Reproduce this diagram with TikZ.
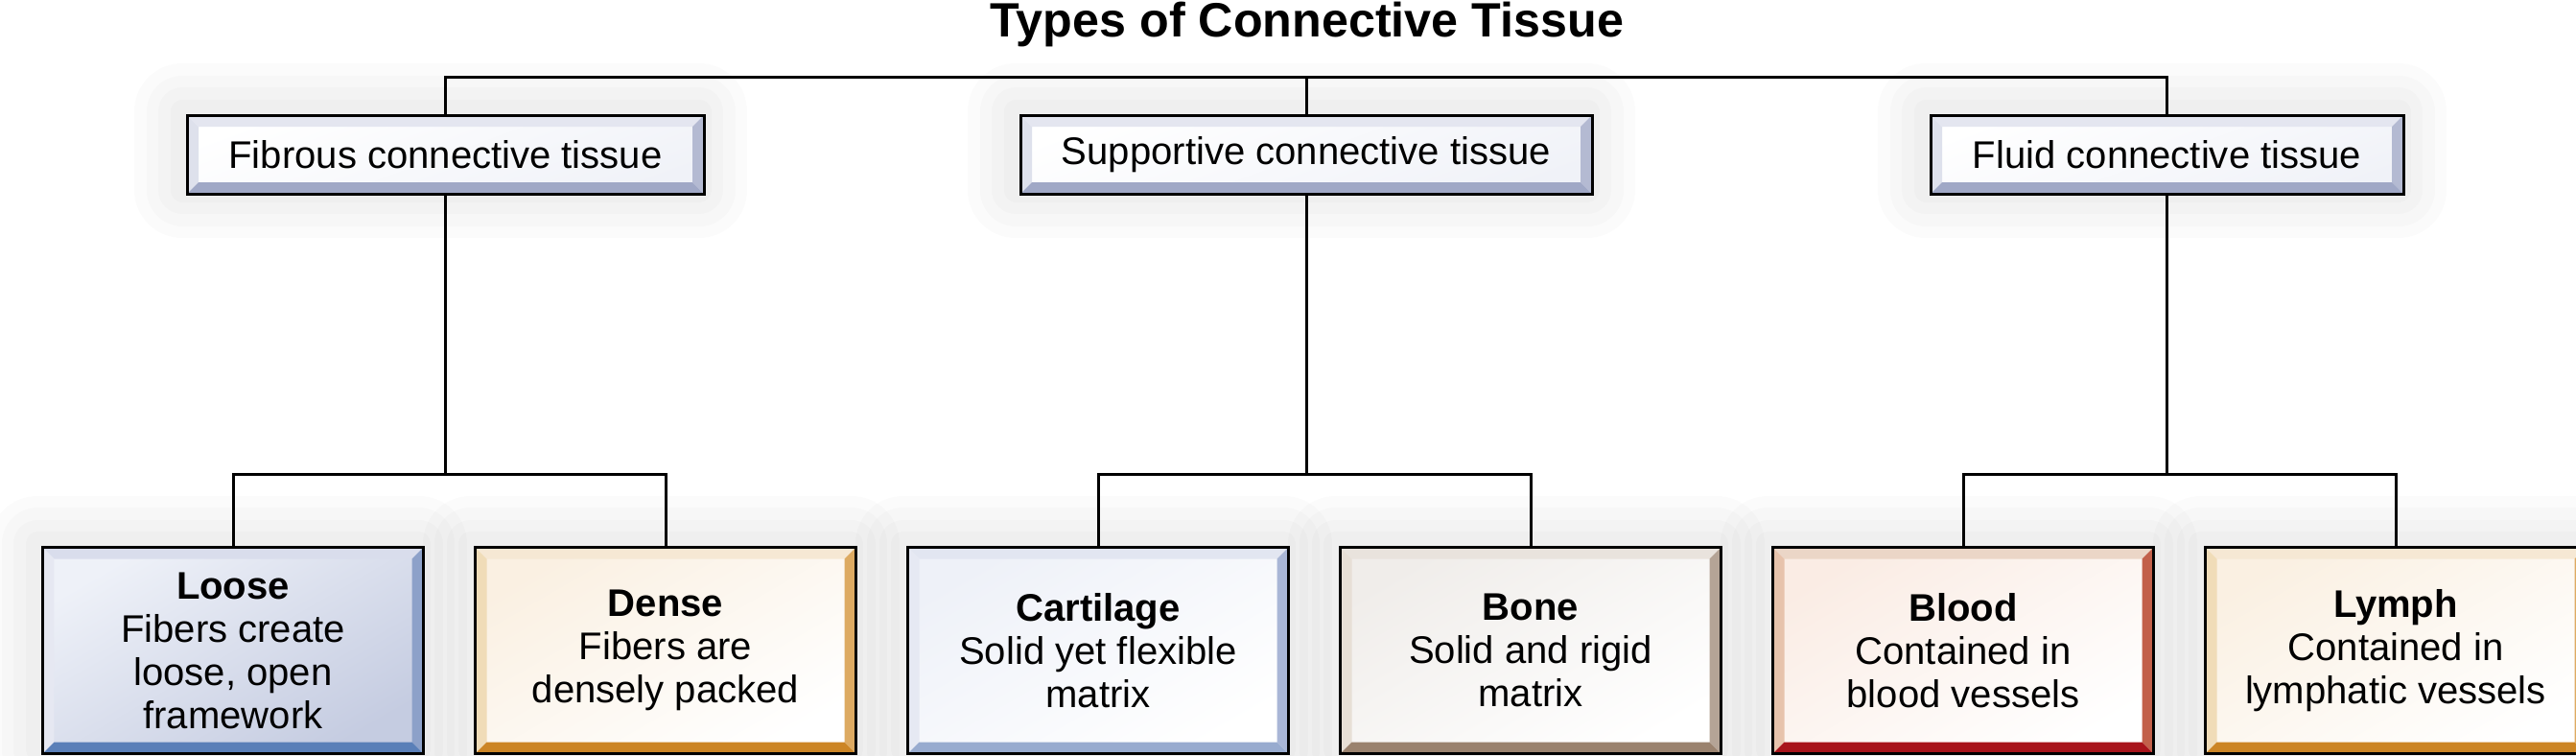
\documentclass[tikz,border=0pt]{standalone}
\usepackage{fontspec}
\setmainfont{Liberation Sans}
\newfontfamily\titlefont[FakeStretch=1.0]{Liberation Sans}
\usepackage{tikz}
\usetikzlibrary{positioning}
\definecolor{ctLvoneTop}{RGB}{228,230,240}
\definecolor{ctLvoneLeft}{RGB}{222,225,236}
\definecolor{ctLvoneRight}{RGB}{180,186,210}
\definecolor{ctLvoneBottom}{RGB}{160,168,198}
\definecolor{ctLvoneFill}{RGB}{240,242,248}
\definecolor{ctBlueFill}{RGB}{197,204,225}
\definecolor{ctBlueTop}{RGB}{217,221,236}
\definecolor{ctBlueLeft}{RGB}{230,232,242}
\definecolor{ctBlueRight}{RGB}{141,161,201}
\definecolor{ctBlueBottom}{RGB}{90,127,184}
\definecolor{ctPaleFill}{RGB}{238,241,248}
\definecolor{ctPaleTop}{RGB}{226,230,241}
\definecolor{ctPaleLeft}{RGB}{230,233,243}
\definecolor{ctPaleRight}{RGB}{169,182,214}
\definecolor{ctPaleBottom}{RGB}{152,171,207}
\definecolor{ctOrangeFill}{RGB}{250,240,226}
\definecolor{ctOrangeTop}{RGB}{246,232,212}
\definecolor{ctOrangeLeft}{RGB}{240,220,184}
\definecolor{ctOrangeRight}{RGB}{221,170,98}
\definecolor{ctOrangeBottom}{RGB}{204,133,37}
\definecolor{ctBoneFill}{RGB}{240,237,234}
\definecolor{ctBoneTop}{RGB}{233,227,221}
\definecolor{ctBoneLeft}{RGB}{231,223,214}
\definecolor{ctBoneRight}{RGB}{181,164,150}
\definecolor{ctBoneBottom}{RGB}{154,130,110}
\definecolor{ctRedFill}{RGB}{250,236,228}
\definecolor{ctRedTop}{RGB}{235,214,199}
\definecolor{ctRedLeft}{RGB}{231,195,172}
\definecolor{ctRedRight}{RGB}{194,96,74}
\definecolor{ctRedBottom}{RGB}{168,20,27}
\newcommand{\bevw}{0.12cm}

\begin{document}
\begin{tikzpicture}[
  font=\fontsize{11.4}{12.8}\selectfont,
  glow/.style={
    preaction={draw=black,draw opacity=0.016,line width=1.0cm,line join=round,transform canvas={shift={(-0.05,0.04)}}},
    preaction={draw=black,draw opacity=0.016,line width=0.75cm,line join=round,transform canvas={shift={(-0.05,0.04)}}},
    preaction={draw=black,draw opacity=0.016,line width=0.5cm,line join=round,transform canvas={shift={(-0.05,0.04)}}},
    preaction={draw=black,draw opacity=0.016,line width=0.25cm,line join=round,transform canvas={shift={(-0.05,0.04)}}}},
  bevel/.style n args={4}{path picture={
    \fill[#1] (path picture bounding box.north west) -- (path picture bounding box.north east)
      -- ([xshift=-\bevw,yshift=-\bevw]path picture bounding box.north east)
      -- ([xshift=\bevw,yshift=-\bevw]path picture bounding box.north west) -- cycle;
    \fill[#2] (path picture bounding box.north west) -- (path picture bounding box.south west)
      -- ([xshift=\bevw,yshift=\bevw]path picture bounding box.south west)
      -- ([xshift=\bevw,yshift=-\bevw]path picture bounding box.north west) -- cycle;
    \fill[#3] (path picture bounding box.north east) -- (path picture bounding box.south east)
      -- ([xshift=-\bevw,yshift=\bevw]path picture bounding box.south east)
      -- ([xshift=-\bevw,yshift=-\bevw]path picture bounding box.north east) -- cycle;
    \fill[#4] (path picture bounding box.south west) -- (path picture bounding box.south east)
      -- ([xshift=-\bevw,yshift=\bevw]path picture bounding box.south east)
      -- ([xshift=\bevw,yshift=\bevw]path picture bounding box.south west) -- cycle;
  }},
  box/.style={draw,line width=0.03cm,align=center,inner sep=0pt,glow},
  lvone/.style={box,minimum height=0.82cm,top color=white,bottom color=ctLvoneFill,shading angle=20,
    bevel={ctLvoneTop}{ctLvoneLeft}{ctLvoneRight}{ctLvoneBottom}},
  lvtwo/.style={box,minimum width=3.97cm,minimum height=2.15cm},
  bluebox/.style={lvtwo,top color=ctPaleFill,bottom color=ctBlueFill,shading angle=30,
    bevel={ctBlueTop}{ctBlueLeft}{ctBlueRight}{ctBlueBottom}},
  palebox/.style={lvtwo,top color=ctPaleFill,bottom color=white,shading angle=30,
    bevel={ctPaleTop}{ctPaleLeft}{ctPaleRight}{ctPaleBottom}},
  orangebox/.style={lvtwo,top color=ctOrangeFill,bottom color=white,shading angle=30,
    bevel={ctOrangeTop}{ctOrangeLeft}{ctOrangeRight}{ctOrangeBottom}},
  bonebox/.style={lvtwo,top color=ctBoneFill,bottom color=white,shading angle=30,
    bevel={ctBoneTop}{ctBoneLeft}{ctBoneRight}{ctBoneBottom}},
  redbox/.style={lvtwo,top color=ctRedFill,bottom color=white,shading angle=30,
    bevel={ctRedTop}{ctRedLeft}{ctRedRight}{ctRedBottom}},
  link/.style={line width=0.03cm}
]
  \useasboundingbox (0,0) rectangle (26.86,-7.87);

  \node[anchor=base,font=\titlefont\bfseries\fontsize{14.3}{17}\selectfont] (title) at (13.63,-0.38) {Types of Connective Tissue};

  % first row
  \node[lvone,minimum width=5.39cm] (fib) at (4.645,-1.61) {Fibrous connective tissue};
  \node[lvone,minimum width=5.96cm] (sup) at (13.62,-1.61) {Supportive connective tissue};
  \node[lvone,minimum width=4.93cm] (fluid) at (22.595,-1.61) {Fluid connective tissue};

  % second row
  \node[bluebox] (loose) at (2.43,-6.78) {\textbf{Loose}\\Fibers create\\loose, open\\framework};
  \node[orangebox,right=0.51cm of loose] (dense) {\textbf{Dense}\\Fibers are\\densely packed};
  \node[palebox,right=0.51cm of dense] (cart) {\textbf{Cartilage}\\Solid yet flexible\\matrix};
  \node[bonebox,right=0.51cm of cart] (bone) {\textbf{Bone}\\Solid and rigid\\matrix};
  \node[redbox,right=0.51cm of bone] (blood) {\textbf{Blood}\\Contained in\\blood vessels};
  \node[orangebox,right=0.51cm of blood] (lymph) {\textbf{Lymph}\\Contained in\\lymphatic vessels};

  \draw[link] (sup.north) -- ++(0,0.38) coordinate (top);
  \draw[link] (fib.north) |- (top) -| (fluid.north);
  \draw[link] (fib.south) -- ++(0,-2.91) coordinate (fibj);
  \draw[link] (loose.north) |- (fibj) -| (dense.north);
  \draw[link] (sup.south) -- ++(0,-2.91) coordinate (supj);
  \draw[link] (cart.north) |- (supj) -| (bone.north);
  \draw[link] (fluid.south) -- ++(0,-2.91) coordinate (fluj);
  \draw[link] (blood.north) |- (fluj) -| (lymph.north);
\end{tikzpicture}
\end{document}
